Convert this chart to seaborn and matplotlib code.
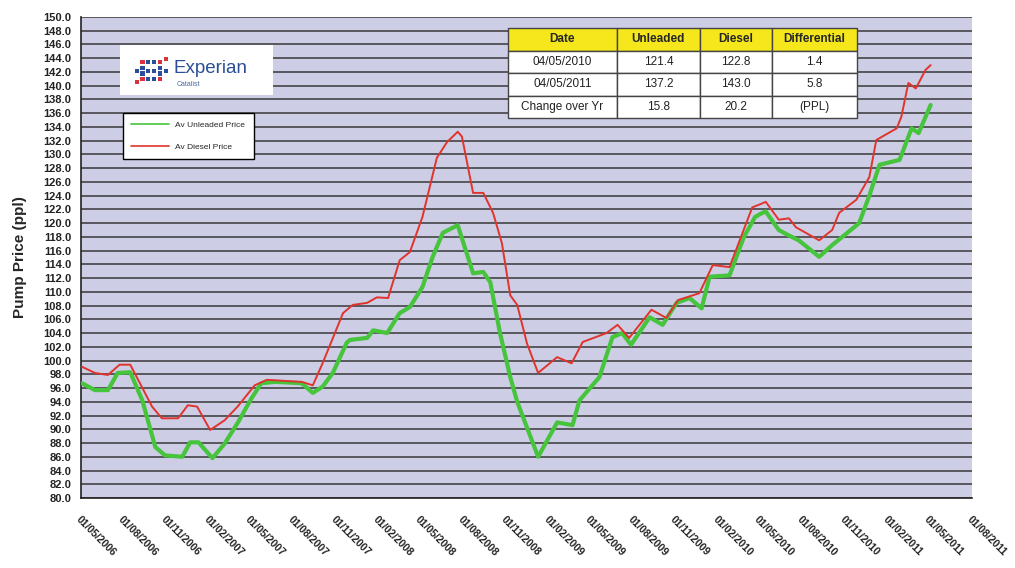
import matplotlib
matplotlib.use("Agg")
import matplotlib.pyplot as plt
from matplotlib.lines import Line2D
from matplotlib.patches import Rectangle
import pandas as pd
import seaborn as sns

# Weekly-ish average pump prices (pence per litre)
unleaded_dates = [
    "2006-05-03", "2006-05-31", "2006-06-28", "2006-07-19", "2006-08-15", "2006-09-10",
    "2006-10-08", "2006-10-29", "2006-12-05", "2006-12-22", "2007-01-09", "2007-02-08",
    "2007-03-06", "2007-04-03", "2007-05-03", "2007-05-24", "2007-06-22", "2007-07-24",
    "2007-08-19", "2007-09-12", "2007-10-03", "2007-10-25", "2007-11-24", "2007-12-01",
    "2008-01-07", "2008-01-20", "2008-02-19", "2008-03-17", "2008-04-08", "2008-05-05",
    "2008-05-27", "2008-06-18", "2008-07-20", "2008-08-22", "2008-09-13", "2008-09-28",
    "2008-10-19", "2008-11-10", "2008-11-25", "2009-01-09", "2009-02-19", "2009-03-24",
    "2009-04-08", "2009-05-21", "2009-06-18", "2009-07-09", "2009-07-28", "2009-09-06",
    "2009-10-04", "2009-11-03", "2009-12-01", "2009-12-27", "2010-01-13", "2010-02-25",
    "2010-03-28", "2010-04-21", "2010-05-04", "2010-05-14", "2010-06-11", "2010-07-03",
    "2010-07-24", "2010-09-06", "2010-10-04", "2010-12-01", "2010-12-23", "2011-01-14",
    "2011-02-26", "2011-03-24", "2011-04-08", "2011-05-04",
]
unleaded_price = [
    96.7, 95.7, 95.7, 98.2, 98.3, 94.2,
    87.4, 86.2, 86.0, 88.1, 88.1, 85.8,
    87.9, 90.9, 94.5, 96.7, 96.9, 96.8,
    96.7, 95.3, 96.2, 98.2, 102.6, 103.0,
    103.3, 104.4, 104.0, 106.9, 107.8, 110.7,
    115.1, 118.6, 119.7, 112.7, 112.9, 111.4,
    104.0, 97.6, 94.0, 86.0, 91.0, 90.6,
    94.2, 97.6, 103.4, 104.0, 102.3, 106.3,
    105.2, 108.4, 109.1, 107.6, 112.2, 112.4,
    118.0, 120.9, 121.4, 121.7, 119.0, 118.2,
    117.5, 115.1, 116.8, 120.0, 124.0, 128.5,
    129.2, 133.8, 133.1, 137.2,
]

diesel_dates = [
    "2006-05-03", "2006-05-31", "2006-06-28", "2006-07-23", "2006-08-15", "2006-09-01",
    "2006-10-01", "2006-10-22", "2006-11-26", "2006-12-17", "2007-01-06", "2007-02-03",
    "2007-03-06", "2007-04-03", "2007-05-10", "2007-06-05", "2007-07-24", "2007-08-19",
    "2007-09-12", "2007-10-03", "2007-11-16", "2007-12-07", "2008-01-07", "2008-01-28",
    "2008-02-21", "2008-03-17", "2008-04-08", "2008-05-05", "2008-06-05", "2008-06-27",
    "2008-07-20", "2008-07-29", "2008-08-22", "2008-09-13", "2008-10-04", "2008-10-23",
    "2008-11-10", "2008-11-25", "2008-12-16", "2009-01-09", "2009-02-19", "2009-03-22",
    "2009-04-15", "2009-06-05", "2009-06-29", "2009-07-24", "2009-09-10", "2009-10-12",
    "2009-11-06", "2009-12-22", "2010-01-20", "2010-02-25", "2010-04-15", "2010-05-04",
    "2010-05-14", "2010-06-11", "2010-07-03", "2010-07-18", "2010-09-06", "2010-10-04",
    "2010-10-19", "2010-11-25", "2010-12-23", "2011-01-07", "2011-02-20", "2011-03-02",
    "2011-03-17", "2011-04-02", "2011-04-23", "2011-05-04",
]
diesel_price = [
    99.1, 98.2, 97.9, 99.4, 99.4, 97.2,
    93.3, 91.6, 91.6, 93.5, 93.3, 89.9,
    91.3, 93.3, 96.4, 97.2, 97.0, 96.9,
    96.4, 99.6, 106.9, 108.1, 108.4, 109.2,
    109.1, 114.6, 115.8, 120.9, 129.5, 131.8,
    133.3, 132.6, 124.4, 124.4, 121.5, 117.1,
    109.5, 108.1, 102.5, 98.2, 100.5, 99.6,
    102.7, 104.0, 105.2, 103.3, 107.4, 106.2,
    108.8, 109.8, 113.9, 113.6, 122.3, 122.8,
    123.1, 120.5, 120.7, 119.4, 117.5, 119.0,
    121.5, 123.4, 126.7, 132.1, 133.8, 135.5,
    140.4, 139.6, 142.3, 143.0,
]

# Summary table
table_columns = ["Date", "Unleaded", "Diesel", "Differential"]
table_rows = [
    ["04/05/2010", "121.4", "122.8", "1.4"],
    ["04/05/2011", "137.2", "143.0", "5.8"],
    ["Change over Yr", "15.8", "20.2", "(PPL)"],
]

series_labels = ["Av Unleaded Price", "Av Diesel Price"]
y_ticks = [80 + 2 * i for i in range(36)]
x_ticks = pd.date_range("2006-05-01", "2011-08-01", freq="3MS")

GREEN = "#45c43c"
RED = "#e0342c"
BG = "#cdcde6"

sns.set_style("white")
plt.rcParams["font.family"] = ["Liberation Sans", "DejaVu Sans"]

fig = plt.figure(figsize=(10.15, 5.68), dpi=100)
ax = fig.add_axes([81 / 1015, 1 - 498 / 568, 891 / 1015, 481 / 568])
ax.set_facecolor(BG)

unleaded = pd.DataFrame({"date": pd.to_datetime(unleaded_dates), "price": unleaded_price})
diesel = pd.DataFrame({"date": pd.to_datetime(diesel_dates), "price": diesel_price})

sns.lineplot(data=unleaded, x="date", y="price", color=GREEN, linewidth=3.0, ax=ax, zorder=3)
sns.lineplot(data=diesel, x="date", y="price", color=RED, linewidth=1.4, ax=ax, zorder=4)

ax.set_xlim(pd.Timestamp("2006-05-01"), pd.Timestamp("2011-08-01"))
ax.set_ylim(80, 150)
ax.set_yticks(y_ticks)
ax.set_yticklabels([f"{v:.1f}" for v in y_ticks], fontsize=8, fontweight="bold", color="#222222")
ax.set_xticks(x_ticks)
ax.set_xticklabels([d.strftime("%d/%m/%Y") for d in x_ticks], rotation=-45, ha="left",
                   va="top", rotation_mode="anchor", fontsize=7.5, fontweight="bold",
                   color="#222222")
ax.tick_params(axis="both", direction="out", length=4, width=1, color="#222222", pad=3)
ax.tick_params(axis="x", pad=8)

ax.set_axisbelow(True)
ax.yaxis.grid(True, color="#383838", linewidth=1.1)
ax.xaxis.grid(False)
for side in ("top", "right"):
    ax.spines[side].set_visible(False)
for side in ("left", "bottom"):
    ax.spines[side].set_color("#222222")
    ax.spines[side].set_linewidth(1.2)

ax.set_xlabel("")
ax.set_ylabel("Pump Price (ppl)", fontsize=11, fontweight="bold", labelpad=12)

# Legend box
handles = [Line2D([], [], color=GREEN, lw=1.2), Line2D([], [], color=RED, lw=1.2)]
leg = ax.legend(handles, series_labels, loc="upper left", bbox_to_anchor=(0.047, 0.80),
                frameon=True, fancybox=False, edgecolor="black", framealpha=1,
                fontsize=6, handlelength=4.5, borderpad=1.0, labelspacing=1.6,
                borderaxespad=0)
leg.get_frame().set_linewidth(1.0)
leg.set_zorder(6)

# Experian logo panel
ax.add_patch(Rectangle((0.044, 0.838), 0.171, 0.104, transform=ax.transAxes,
                       facecolor="white", edgecolor="none", zorder=6))
dot_x = [0, 1, 2, 3, 0, 3, 0, 3, 0, 1, 2, 3, 1, 2, -1, 4, -1, 4]
dot_y = [0, 0, 0, 0, 1, 1, 2, 2, 3, 3, 3, 3, 1.5, 1.5, 3.5, -0.5, 1.5, 1.5]
dot_c = ["#d8333a", "#2a4e9b", "#2a4e9b", "#d8333a", "#2a4e9b", "#2a4e9b",
         "#2a4e9b", "#2a4e9b", "#d8333a", "#2a4e9b", "#2a4e9b", "#d8333a",
         "#2a4e9b", "#2a4e9b", "#d8333a", "#d8333a", "#2a4e9b", "#2a4e9b"]
ax.scatter([0.069 + 0.0066 * dx for dx in dot_x], [0.906 - 0.0118 * dy for dy in dot_y],
           s=9, marker="s", c=dot_c, transform=ax.transAxes, zorder=7, linewidths=0)
ax.text(0.104, 0.892, "Experian", transform=ax.transAxes, fontsize=13.5, color="#2b4f95",
        va="center", ha="left", zorder=7)
ax.text(0.1075, 0.859, "Catalist", transform=ax.transAxes, fontsize=5, color="#4a6aa8",
        va="center", ha="left", zorder=7)

# Summary table
tbl = ax.table(cellText=table_rows, colLabels=table_columns, cellLoc="center",
               colWidths=[109 / 349, 83 / 349, 72 / 349, 85 / 349],
               bbox=[0.479, 0.790, 0.392, 0.187])
tbl.auto_set_font_size(False)
tbl.set_fontsize(8.5)
tbl.set_zorder(8)
for (r, c), cell in tbl.get_celld().items():
    cell.set_edgecolor("#444444")
    cell.set_linewidth(1.0)
    if r == 0:
        cell.set_facecolor("#f5e71c")
        cell.get_text().set_fontweight("bold")
    else:
        cell.set_facecolor("white")
        cell.get_text().set_color("#222222")

fig.savefig("out.png", dpi=100)
